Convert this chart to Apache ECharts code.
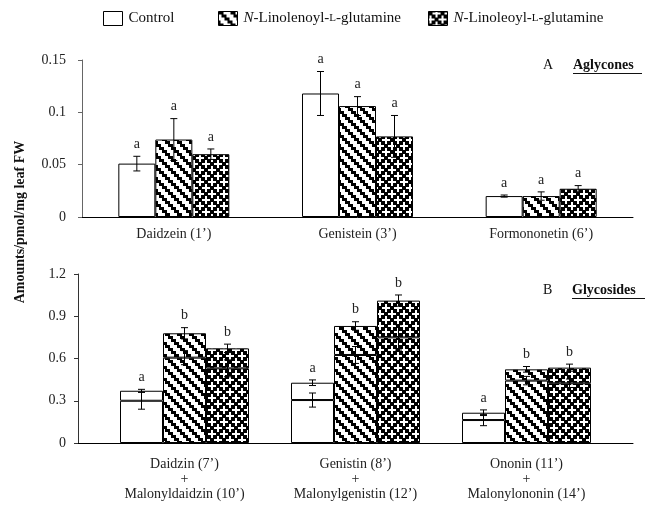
<!DOCTYPE html>
<html>
<head>
<meta charset="utf-8">
<script src="https://cdn.jsdelivr.net/npm/echarts@6/dist/echarts.min.js"></script>
<style>
  html, body { margin: 0; padding: 0; background: #fff; }
  #chart { width: 656px; height: 505px; }
</style>
</head>
<body>
<div id="chart"></div>
<script>
// ---- data ----
const seriesNames = ['Control', 'Linolenoyl', 'Linoleoyl'];

// A: aglycones
const aglyCats = ['Daidzein (1’)', 'Genistein (3’)', 'Formononetin (6’)'];
const aglyControl = [0.051, 0.118, 0.020];
const aglyControlErr = [0.007, 0.021, 0.001];
const aglyLinolenoyl = [0.074, 0.106, 0.020];
const aglyLinolenoylErr = [0.020, 0.009, 0.004];
const aglyLinoleoyl = [0.060, 0.077, 0.027];
const aglyLinoleoylErr = [0.005, 0.020, 0.003];
const aglyLetters = [['a', 'a', 'a'], ['a', 'a', 'a'], ['a', 'a', 'a']];

// B: glycosides (lower part) + malonyl glycosides (upper part)
const glycoCats = ['Daidzin (7’)\n+\nMalonyldaidzin (10’)', 'Genistin (8’)\n+\nMalonylgenistin (12’)', 'Ononin (11’)\n+\nMalonylononin (14’)'];
const glyControl = [0.300, 0.305, 0.163];
const glyControlErr = [0.060, 0.050, 0.040];
const malControl = [0.071, 0.123, 0.052];
const malControlErr = [0.010, 0.020, 0.020];
const glyLinolenoyl = [0.606, 0.625, 0.443];
const glyLinolenoylErr = [0.050, 0.060, 0.030];
const malLinolenoyl = [0.173, 0.206, 0.080];
const malLinolenoylErr = [0.040, 0.030, 0.020];
const glyLinoleoyl = [0.530, 0.750, 0.424];
const glyLinoleoylErr = [0.060, 0.090, 0.030];
const malLinoleoyl = [0.142, 0.261, 0.111];
const malLinoleoylErr = [0.030, 0.040, 0.025];
const glycoLetters = [['a', 'a', 'a'], ['b', 'b', 'b'], ['b', 'b', 'b']];

const FONT = '"Liberation Serif", "Times New Roman", serif';

// hatch tiles
function tile(kind) {
  const c = document.createElement('canvas');
  c.width = 12; c.height = 12;
  const g = c.getContext('2d');
  g.fillStyle = '#fff'; g.fillRect(0, 0, 12, 12);
  g.fillStyle = '#000';
  for (let r = 0; r < 4; r++) {
    for (let k = 0; k < 4; k++) {
      const d = ((k - r) % 4 + 4) % 4;
      const s = (k + r) % 4;
      if (kind === 'd' && d === 0) {
        g.fillRect(k * 3, r * 3, 5, 3);
        if (k === 3) g.fillRect(0, r * 3, 2, 3);
      }
      if (kind === 'x' && (d === 0 || s === 0)) {
        // slightly oversized squares, wrapped round the tile
        for (const ox of [0, -12]) for (const oy of [0, -12]) g.fillRect(k * 3 + ox, r * 3 + oy, 4, 4);
      }
    }
  }
  return c;
}
const fills = ['#fff', { image: tile('d'), repeat: 'repeat' }, { image: tile('x'), repeat: 'repeat' }];

const chart = echarts.init(document.getElementById('chart'), null, { renderer: 'canvas' });

function errSeries(idx, vals, errs, bw, xi, yi) {
  return {
    type: 'custom', xAxisIndex: xi, yAxisIndex: yi, z: 5, silent: true,
    data: vals.map((v, i) => [i, v, errs[i]]),
    renderItem: function (params, api) {
      const x = api.value(0), v = api.value(1), e = api.value(2);
      const t = api.coord([x, v + e]);
      const b = api.coord([x, v - e]);
      const cx = t[0] + (idx - 1) * bw;
      const st = { stroke: '#000', lineWidth: 1 };
      return {
        type: 'group', children: [
          { type: 'line', shape: { x1: cx, y1: t[1], x2: cx, y2: b[1] }, style: st },
          { type: 'line', shape: { x1: cx - 3.5, y1: t[1], x2: cx + 3.5, y2: t[1] }, style: st },
          { type: 'line', shape: { x1: cx - 3.5, y1: b[1], x2: cx + 3.5, y2: b[1] }, style: st }
        ]
      };
    }
  };
}

function letterSeries(idx, tops, letters, bw, xi, yi) {
  return {
    type: 'custom', xAxisIndex: xi, yAxisIndex: yi, z: 6, silent: true,
    data: tops.map((v, i) => [i, v]),
    renderItem: function (params, api) {
      const p = api.coord([api.value(0), api.value(1)]);
      return {
        type: 'text', x: p[0] + (idx - 1) * bw, y: p[1] - 5,
        style: { text: letters[params.dataIndex], fill: '#222', font: '14px ' + FONT, align: 'center', verticalAlign: 'bottom' }
      };
    }
  };
}

const aVals = [aglyControl, aglyLinolenoyl, aglyLinoleoyl];
const aErrs = [aglyControlErr, aglyLinolenoylErr, aglyLinoleoylErr];
const gVals = [glyControl, glyLinolenoyl, glyLinoleoyl];
const gErrs = [glyControlErr, glyLinolenoylErr, glyLinoleoylErr];
const mVals = [malControl, malLinolenoyl, malLinoleoyl];
const mErrs = [malControlErr, malLinolenoylErr, malLinoleoylErr];

const BW_A = 37, BW_B = 43;
const series = [];
const barStyle = (i) => ({ color: fills[i], borderColor: '#000', borderWidth: 1 });

// panel A bars
for (let i = 0; i < 3; i++) {
  series.push({
    name: seriesNames[i], type: 'bar', xAxisIndex: 0, yAxisIndex: 0,
    barWidth: BW_A, barGap: '0%', data: aVals[i], itemStyle: barStyle(i), silent: true
  });
}
// panel B stacked bars
for (let i = 0; i < 3; i++) {
  series.push({
    name: seriesNames[i], type: 'bar', xAxisIndex: 2, yAxisIndex: 2, stack: 's' + i,
    barWidth: BW_B, barGap: '0%', data: gVals[i], itemStyle: barStyle(i), silent: true
  });
}
for (let i = 0; i < 3; i++) {
  series.push({
    name: seriesNames[i], type: 'bar', xAxisIndex: 2, yAxisIndex: 2, stack: 's' + i,
    barWidth: BW_B, barGap: '0%', data: mVals[i], itemStyle: barStyle(i), silent: true
  });
}
// error bars + letters
for (let i = 0; i < 3; i++) {
  series.push(errSeries(i, aVals[i], aErrs[i], BW_A, 0, 0));
  series.push(letterSeries(i, aVals[i].map((v, k) => v + aErrs[i][k]), aglyLetters[i], BW_A, 0, 0));
  const totals = gVals[i].map((v, k) => v + mVals[i][k]);
  series.push(errSeries(i, gVals[i], gErrs[i], BW_B, 2, 2));
  series.push(errSeries(i, totals, mErrs[i], BW_B, 2, 2));
  series.push(letterSeries(i, totals.map((v, k) => v + mErrs[i][k]), glycoLetters[i], BW_B, 2, 2));
}

const legendRich = {
  i: { fontStyle: 'italic', fontFamily: FONT, fontSize: 15, color: '#111' },
  t: { fontFamily: FONT, fontSize: 15, color: '#111' },
  s: { fontFamily: FONT, fontSize: 11, color: '#111' }
};
const legendText = {
  Control: '{t|Control}',
  Linolenoyl: '{i|N}{t|-Linolenoyl-}{s|L}{t|-glutamine}',
  Linoleoyl: '{i|N}{t|-Linoleoyl-}{s|L}{t|-glutamine}'
};
const legendLeft = [103, 218, 428];
const legends = seriesNames.map((n, i) => ({
  data: [n], left: legendLeft[i], top: 11, padding: 0, itemWidth: 19, itemHeight: 14, itemGap: 0,
  icon: 'rect', selectedMode: false,
  itemStyle: { borderColor: '#000', borderWidth: 1 },
  formatter: (name) => legendText[name],
  textStyle: { rich: legendRich, padding: [0, 0, 0, 1] }
}));

const axisLabel = { fontFamily: FONT, fontSize: 14, color: '#222' };

const option = {
  animation: false,
  backgroundColor: '#fff',
  legend: legends,
  grid: [
    { left: 82, top: 60, width: 551, height: 157 },
    { left: 78, top: 274, width: 555, height: 169 },
    { left: 99, top: 274, width: 513, height: 169 }
  ],
  xAxis: [
    { type: 'category', gridIndex: 0, data: aglyCats, axisTick: { show: false },
      axisLine: { lineStyle: { color: '#000', width: 1 } },
      axisLabel: Object.assign({ margin: 10, interval: 0 }, axisLabel) },
    { type: 'category', gridIndex: 1, data: ['', '', ''], axisTick: { show: false },
      axisLabel: { show: false }, axisLine: { lineStyle: { color: '#000', width: 1 } } },
    { type: 'category', gridIndex: 2, data: glycoCats, axisTick: { show: false },
      axisLine: { show: false },
      axisLabel: Object.assign({ margin: 14, interval: 0, lineHeight: 15 }, axisLabel) }
  ],
  yAxis: [
    { type: 'value', gridIndex: 0, min: 0, max: 0.15, interval: 0.05, splitLine: { show: false },
      axisLine: { show: true, lineStyle: { color: '#666' } },
      axisTick: { show: true, length: 4, lineStyle: { color: '#666' } },
      axisLabel: Object.assign({ margin: 16 }, axisLabel) },
    { type: 'value', gridIndex: 1, min: 0, max: 1.2, interval: 0.3, splitLine: { show: false },
      axisLine: { show: true, lineStyle: { color: '#333' } },
      axisTick: { show: true, length: 4, lineStyle: { color: '#333' } },
      axisLabel: Object.assign({ margin: 12 }, axisLabel) },
    { type: 'value', gridIndex: 2, min: 0, max: 1.2, interval: 0.3, show: false }
  ],
  graphic: [
    { type: 'text', x: 20, y: 222, rotation: Math.PI / 2,
      style: { text: 'Amounts/pmol/mg leaf FW', font: 'bold 14px ' + FONT, fill: '#111', align: 'center', verticalAlign: 'middle' } },
    { type: 'text', x: 543, y: 58, style: { text: 'A', font: '14px ' + FONT, fill: '#111' } },
    { type: 'text', x: 573, y: 58, style: { text: 'Aglycones', font: 'bold 14px ' + FONT, fill: '#111' } },
    { type: 'line', shape: { x1: 573, y1: 73.5, x2: 642, y2: 73.5 }, style: { stroke: '#111', lineWidth: 1 } },
    { type: 'text', x: 543, y: 283, style: { text: 'B', font: '14px ' + FONT, fill: '#111' } },
    { type: 'text', x: 572, y: 283, style: { text: 'Glycosides', font: 'bold 14px ' + FONT, fill: '#111' } },
    { type: 'line', shape: { x1: 572, y1: 298.5, x2: 645, y2: 298.5 }, style: { stroke: '#111', lineWidth: 1 } }
  ],
  series: series
};

chart.setOption(option);
</script>
</body>
</html>
